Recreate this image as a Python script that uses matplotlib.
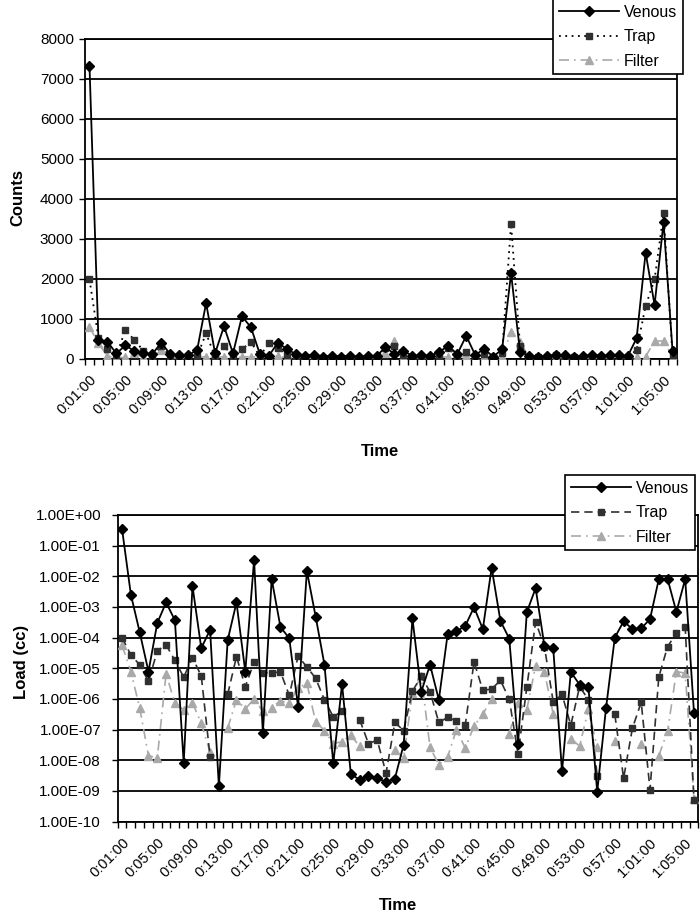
import numpy as np
import matplotlib
matplotlib.use("Agg")
import matplotlib.pyplot as plt
from matplotlib.ticker import FixedLocator, NullFormatter

plt.rcParams['font.family'] = ['Liberation Sans', 'DejaVu Sans']

nan = float('nan')

# categories: one per minute, 0:01:00 .. 1:06:00
times = ["%d:%02d:00" % ((m) // 60, (m) % 60) for m in range(1, 67)]
tick_labels = ["0:01:00", "0:05:00", "0:09:00", "0:13:00", "0:17:00", "0:21:00",
               "0:25:00", "0:29:00", "0:33:00", "0:37:00", "0:41:00", "0:45:00",
               "0:49:00", "0:53:00", "0:57:00", "1:01:00", "1:05:00"]

venous_counts = [7330, 480, 430, 140, 340, 200, 140, 120, 410, 120, 100, 100, 220, 1400,
                 140, 820, 140, 1070, 790, 120, 80, 410, 250, 120, 80, 110, 60, 80, 60,
                 80, 60, 80, 70, 300, 120, 200, 80, 100, 80, 180, 330, 120, 580, 100,
                 250, 60, 240, 2140, 180, 80, 60, 80, 100, 90, 60, 80, 100, 80, 90, 100,
                 70, 520, 2660, 1350, 3420, 210]
trap_counts = [1990, 520, 240, 90, 725, 475, 210, 60, 325, 60, 50, 40, 70, 640, 60, 330,
               60, 240, 430, 60, 410, 270, 100, 50, 40, 40, 30, 40, 30, 40, 30, 50, 60,
               270, 330, 100, 60, 50, 50, 70, 270, 60, 180, 60, 120, 40, 150, 3375, 330,
               60, 40, 60, 100, 60, 40, 30, 60, 40, 60, 60, 40, 230, 1325, 1990, 3640, 90]
filter_counts = [800, 390, 75, 30, 40, 140, 40, 30, 220, 30, 20, 20, 30, 60, 30, 60, 30,
                 50, 60, 40, 60, 70, 30, 20, 20, 20, 20, 20, 20, 20, 20, 20, 30, 150, 460,
                 60, 30, 30, 40, 30, 60, 40, 70, 50, 40, 40, 60, 680, 430, 40, 30, 30, 30,
                 40, 30, 20, 30, 20, 30, 30, 30, 40, 60, 450, 450, 60]

venous_load = [3.4e-1, 2.5e-3, 1.5e-4, 7.8e-6, 3.0e-4, 1.4e-3, 3.7e-4, 7.9e-9, 4.8e-3,
               4.5e-5, 1.8e-4, 1.4e-9, 8.3e-5, 1.4e-3, 7.8e-6, 3.4e-2, 7.6e-8, 8.1e-3,
               2.2e-4, 9.5e-5, 5.6e-7, 1.5e-2, 4.8e-4, 1.3e-5, 7.9e-9, 3.0e-6, 3.5e-9,
               2.3e-9, 3.0e-9, 2.7e-9, 1.9e-9, 2.5e-9, 3.2e-8, 4.2e-4, 1.7e-6, 1.3e-5,
               9.3e-7, 1.3e-4, 1.6e-4, 2.4e-4, 9.8e-4, 1.9e-4, 1.9e-2, 3.5e-4, 9.3e-5,
               3.4e-8, 6.8e-4, 4.1e-3, 5.4e-5, 4.5e-5, 4.3e-9, 7.6e-6, 2.9e-6, 2.4e-6,
               9.3e-10, 5.0e-7, 1.0e-4, 3.4e-4, 1.9e-4, 2.0e-4, 4.0e-4, 8.1e-3, 8.1e-3,
               6.9e-4, 8.1e-3, 3.5e-7]
trap_load = [1.0e-4, 2.7e-5, 1.3e-5, 3.7e-6, 3.7e-5, 5.8e-5, 1.8e-5, 5.1e-6, 2.2e-5,
             5.6e-6, 1.3e-8, nan, 1.4e-6, 2.4e-5, 2.5e-6, 1.6e-5, 7.2e-6, 7.1e-6, 7.6e-6,
             1.3e-6, 2.5e-5, 1.1e-5, 4.7e-6, 9.3e-7, 2.6e-7, 4.0e-7, nan, 2.1e-7, 3.5e-8,
             4.5e-8, 3.8e-9, 1.7e-7, 9.3e-8, 1.8e-6, 5.4e-6, 1.7e-6, 1.7e-7, 2.5e-7,
             1.9e-7, 1.4e-7, 1.6e-5, 1.9e-6, 2.1e-6, 4.0e-6, 1.0e-6, 1.6e-8, 2.4e-6,
             3.3e-4, 5.1e-5, 7.9e-7, 1.4e-6, 1.4e-7, 2.5e-6, 9.5e-7, 3.0e-9, nan, 3.1e-7,
             2.6e-9, 1.1e-7, 7.8e-7, 1.1e-9, 5.2e-6, 5.1e-5, 1.4e-4, 2.2e-4, 5.0e-10]
filter_load = [5.6e-5, 7.8e-6, 5.0e-7, 1.4e-8, 1.2e-8, 6.6e-6, 7.2e-7, 4.4e-7, 7.4e-7,
               1.6e-7, 1.8e-8, nan, 1.1e-7, 9.5e-7, 4.7e-7, 1.0e-6, 3.9e-7, 5.2e-7, 8.7e-7,
               7.2e-7, 2.3e-6, 3.2e-6, 1.8e-7, 9.3e-8, 3.5e-8, 4.0e-8, 6.6e-8, 2.8e-8, nan,
               nan, nan, 2.1e-8, 1.2e-8, 1.6e-6, 5.4e-6, 2.6e-8, 7.2e-9, 1.3e-8, 9.8e-8,
               2.5e-8, 1.3e-7, 3.2e-7, 1.0e-6, nan, 7.4e-8, 7.6e-7, 4.5e-7, 1.2e-5, 7.6e-6,
               3.2e-7, nan, 5.0e-8, 2.9e-8, 4.6e-7, 2.6e-8, nan, 4.1e-8, nan, nan, 3.5e-8,
               nan, 1.4e-8, 8.9e-8, 7.8e-6, 6.9e-6, 5.5e-10]

W, H = 700, 916
fig = plt.figure(figsize=(W / 100, H / 100), dpi=100)

def fx(px):
    return px / W

def fy(py):
    return 1 - py / H

x = np.arange(len(times))
label_pos = [times.index(t) for t in tick_labels]

VEN = dict(color='black', lw=1.3, marker='D', ms=5, mfc='black', mec='black')
FIL_C = '#a9a9a9'
TRAP_C = '#303030'

def style_axis(ax, ylab_size):
    for s in ax.spines.values():
        s.set_color('black')
        s.set_linewidth(1.3)
    ax.set_xlim(-0.5, len(times) - 0.5)
    ax.xaxis.set_major_locator(FixedLocator(label_pos))
    ax.set_xticklabels(tick_labels, rotation=45, ha='right', va='top',
                       rotation_mode='anchor', fontsize=10.5)
    ax.xaxis.set_minor_locator(FixedLocator(np.arange(len(times) + 1) - 0.5))
    ax.xaxis.set_minor_formatter(NullFormatter())
    ax.tick_params(axis='x', which='major', length=0, pad=10)
    ax.tick_params(axis='x', which='minor', length=4, width=1, direction='out')
    ax.tick_params(axis='y', which='major', length=4, width=1, direction='out',
                   labelsize=ylab_size, pad=4)
    ax.yaxis.grid(True, color='black', lw=1.3)
    ax.set_axisbelow(True)

# ---------- top: counts ----------
ax1 = fig.add_axes([fx(85), fy(359), fx(677) - fx(85), fy(39) - fy(359)])
ax1.plot(x, filter_counts, color=FIL_C, lw=1.2, ls=(0, (6, 3, 1, 3)), marker='^',
         ms=5.5, mfc=FIL_C, mec=FIL_C, label='Filter', zorder=3)
ax1.plot(x, trap_counts, color='black', lw=1.3, ls=(0, (1, 2.5)), marker='s', ms=5,
         mfc=TRAP_C, mec=TRAP_C, label='Trap', zorder=4)
ax1.plot(x, venous_counts, label='Venous', zorder=5, **VEN)
ax1.set_ylim(0, 8000)
ax1.set_yticks(np.arange(0, 8001, 1000))
style_axis(ax1, 11)
h, l = ax1.get_legend_handles_labels()
order = [2, 1, 0]
leg1 = ax1.legend([h[i] for i in order], [l[i] for i in order], loc='upper left',
                  bbox_to_anchor=(fx(553), fy(-1)), bbox_transform=fig.transFigure,
                  frameon=True, fancybox=False, edgecolor='black', fontsize=11.5,
                  handlelength=3.8, labelspacing=0.6, borderpad=0.35,
                  handletextpad=0.3, borderaxespad=0, framealpha=1)
leg1.get_frame().set_linewidth(1.2)
fig.text(fx(380), fy(452), 'Time', ha='center', va='center', fontsize=12,
         fontweight='bold')
fig.text(fx(18), fy(197), 'Counts', ha='center', va='center', fontsize=12,
         fontweight='bold', rotation=90)

# ---------- bottom: load ----------
ax2 = fig.add_axes([fx(117.7), fy(821.5), fx(698.4) - fx(117.7), fy(515) - fy(821.5)])
ax2.plot(x, filter_load, color=FIL_C, lw=1.2, ls=(0, (6, 3, 1, 3)), marker='^',
         ms=5.5, mfc=FIL_C, mec=FIL_C, label='Filter', zorder=3)
ax2.plot(x, trap_load, color=TRAP_C, lw=1.2, ls=(0, (5, 3)), marker='s', ms=5,
         mfc=TRAP_C, mec=TRAP_C, label='Trap', zorder=4)
ax2.plot(x, venous_load, label='Venous', zorder=5, **VEN)
ax2.set_yscale('log')
ax2.set_ylim(1e-10, 1)
decades = [10.0 ** -k for k in range(0, 11)]
ax2.yaxis.set_major_locator(FixedLocator(decades))
ax2.set_yticklabels(["1.00E+00"] + ["1.00E-%02d" % k for k in range(1, 11)])
ax2.yaxis.set_minor_locator(FixedLocator([]))
style_axis(ax2, 11)
ax2.tick_params(axis='y', pad=8)
h, l = ax2.get_legend_handles_labels()
leg2 = ax2.legend([h[i] for i in order], [l[i] for i in order], loc='upper left',
                  bbox_to_anchor=(fx(565), fy(475)), bbox_transform=fig.transFigure,
                  frameon=True, fancybox=False, edgecolor='black', fontsize=11.5,
                  handlelength=3.8, labelspacing=0.6, borderpad=0.35,
                  handletextpad=0.3, borderaxespad=0, framealpha=1)
leg2.get_frame().set_linewidth(1.2)
fig.text(fx(398), fy(905), 'Time', ha='center', va='center', fontsize=12,
         fontweight='bold')
fig.text(fx(22), fy(662), 'Load (cc)', ha='center', va='center', fontsize=12,
         fontweight='bold', rotation=90)

fig.savefig('out.png', dpi=100, facecolor='white')
